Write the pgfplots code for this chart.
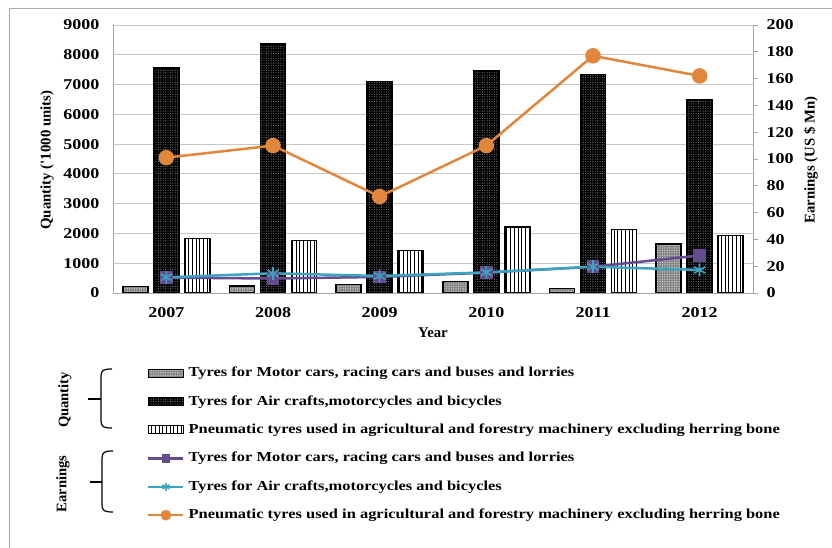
\documentclass[border=0pt]{standalone}
\usepackage{fontspec}
\setmainfont{Liberation Serif}[FakeStretch=1.2]
\newfontfamily\plainserif{Liberation Serif}
\usepackage{pgfplots}
\pgfplotsset{compat=1.18}
\usetikzlibrary{patterns.meta}
\definecolor{cpurple}{HTML}{654C8F}
\definecolor{cteal}{HTML}{3CA3C0}
\definecolor{corange}{HTML}{E0873C}
\newcommand\tickf{\fontsize{15bp}{17bp}\selectfont\bfseries}
\newcommand\labf{\plainserif\fontsize{14.8bp}{16bp}\selectfont\bfseries}
\newcommand\grpf{\plainserif\fontsize{14.6bp}{16bp}\selectfont\bfseries}
\newcommand\legf{\fontsize{13.7bp}{15bp}\selectfont\bfseries}
\tikzset{
  smallbar/.style={draw=black, line width=1.4bp, fill=gray!95, postaction={pattern={Dots[distance=2.4bp, radius=0.6bp]}, pattern color=gray!25}},
  blackbar/.style={draw=black, line width=1.4bp, fill=black, postaction={pattern={Dots[distance=2.4bp, radius=0.45bp]}, pattern color=gray!60}},
  stripebar/.style={draw=black, line width=1.4bp, fill=white, postaction={pattern={Lines[angle=90, distance=3.7bp, line width=0.9bp]}, pattern color=black}},
}
\begin{document}
\begin{tikzpicture}
\useasboundingbox (0,0) rectangle (832bp,548bp);
\draw[gray!65, line width=1bp] (9.3bp,0) -- (9.3bp,539bp) -- (832bp,539bp);
\begin{axis}[
  at={(113bp,255bp)}, anchor=south west, scale only axis,
  width=640bp, height=268bp,
  xmin=-0.5, xmax=5.5, ymin=0, ymax=9000,
  ybar,
  xtick={0,1,2,3,4,5}, xticklabels={2007,2008,2009,2010,2011,2012},
  ytick={0,1000,...,9000},
  ymajorgrids, grid style={gray!45, line width=0.8bp},
  axis x line*=bottom, axis y line*=left,
  axis line style={gray!70, line width=0.8bp, -},
  tick style={draw=none},
  /pgf/number format/assume math mode=true,
  /pgf/number format/1000 sep={},
  yticklabel style={font=\tickf, xshift=-10bp},
  xticklabel style={font=\tickf, yshift=-7bp},
  xlabel={Year},
  xlabel style={font=\labf, at={(axis description cs:0.5,-0.149)}, anchor=center},
  ylabel={Quantity ('1000 units)},
  every axis y label/.style={font=\labf, at={(axis description cs:-0.1031,0.496)}, rotate=90, anchor=center},
]
\addplot[smallbar, bar width=25bp, bar shift=-31bp] coordinates {(0,220) (1,240) (2,280) (3,380) (4,160) (5,1640)};
\addplot[blackbar, bar width=25bp, bar shift=0bp] coordinates {(0,7560) (1,8360) (2,7110) (3,7460) (4,7340) (5,6480)};
\addplot[stripebar, bar width=25bp, bar shift=31bp] coordinates {(0,1830) (1,1760) (2,1430) (3,2210) (4,2130) (5,1930)};
\end{axis}
\begin{axis}[
  at={(113bp,255bp)}, anchor=south west, scale only axis,
  width=640bp, height=268bp,
  xmin=-0.5, xmax=5.5, ymin=0, ymax=200,
  axis x line=none, axis y line*=right,
  axis line style={gray!70, line width=0.8bp, -},
  ytick={0,20,...,200},
  tick style={gray!70, line width=0.8bp}, major tick length=5bp, tick align=outside,
  /pgf/number format/assume math mode=true,
  yticklabel style={font=\tickf, xshift=5bp},
  ylabel={Earnings (US \$ Mn)},
  every axis y label/.style={font=\labf, at={(axis description cs:1.0906,0.496)}, rotate=90, anchor=center},
  legend cell align=left,
  legend style={at={(axis description cs:0.0484,-0.2668)}, anchor=north west, draw=none, fill=none,
    font=\legf, row sep=15.4bp, column sep=4bp,
    nodes={inner sep=0pt, text height=10bp, text depth=3bp}},
]
\addlegendimage{legend image code/.code={\draw[smallbar, line width=1bp] (0bp,-4bp) rectangle (35bp,4bp);}}
\addlegendentry{Tyres for Motor cars,  racing cars and buses and lorries}
\addlegendimage{legend image code/.code={\draw[blackbar, line width=1bp] (0bp,-4bp) rectangle (35bp,4bp);}}
\addlegendentry{Tyres for Air crafts,motorcycles  and bicycles}
\addlegendimage{legend image code/.code={\draw[stripebar, line width=1bp] (0bp,-4bp) rectangle (35bp,4bp);}}
\addlegendentry{Pneumatic tyres used in agricultural and forestry machinery excluding herring bone}
\pgfplotsset{legend image code/.code={\draw[mark repeat=2, mark phase=2, #1, every mark/.append style={scale=0.62}] plot coordinates {(0bp,0bp) (17.5bp,0bp) (35bp,0bp)};}}
\addplot[color=cpurple, line width=2.5bp, mark=square*, mark size=5bp, mark options={solid}] coordinates {(0,11.5) (1,10.8) (2,12) (3,15.2) (4,19.6) (5,28)};
\addlegendentry{Tyres for Motor cars,  racing cars and buses and lorries}
\addplot[color=cteal, line width=2.5bp, mark=asterisk, mark size=6.5bp, mark options={solid, line width=1.6bp}] coordinates {(0,11.7) (1,14.7) (2,12.7) (3,15.4) (4,19.6) (5,17.2)};
\addlegendentry{Tyres for Air crafts,motorcycles  and bicycles}
\addplot[color=corange, line width=2.5bp, mark=*, mark size=6.5bp, mark options={solid}] coordinates {(0,101) (1,110) (2,72) (3,110) (4,177) (5,162)};
\addlegendentry{Pneumatic tyres used in agricultural and forestry machinery excluding herring bone}
\end{axis}
\begin{scope}[x=1bp, y=-1bp, shift={(0,548bp)}]
\node[rotate=90, font=\grpf] at (65,400) {Quantity};
\node[rotate=90, font=\grpf] at (63,484) {Earnings};
\draw[line width=1.2bp] (112,369) .. controls (104,369) and (101,370) .. (101,376) -- (101,421) .. controls (101,427) and (104,428) .. (112,428);
\draw[line width=1.2bp] (88,399) -- (101,399);
\draw[line width=1.2bp] (113,451) .. controls (105,451) and (102,452) .. (102,458) -- (102,505) .. controls (102,511) and (105,512) .. (113,512);
\draw[line width=1.2bp] (90,482) -- (102,482);
\end{scope}
\end{tikzpicture}
\end{document}
